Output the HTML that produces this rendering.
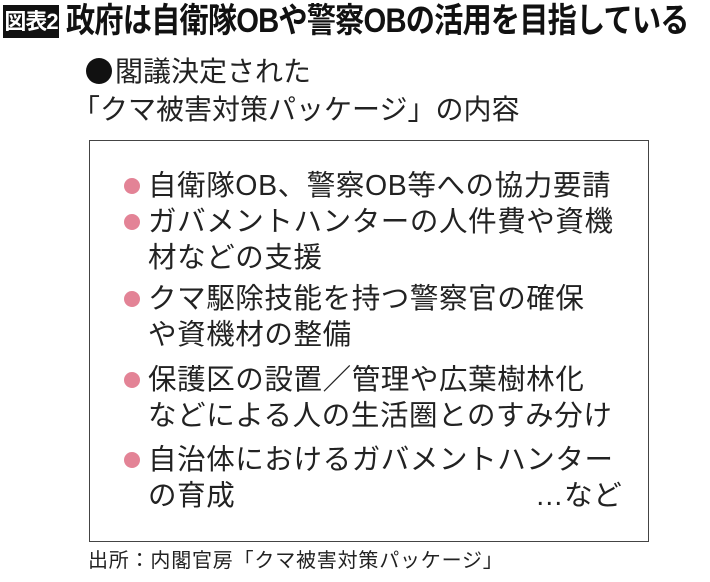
<!DOCTYPE html>
<html><head><meta charset="utf-8"><style>
body{margin:0;width:710px;height:582px;background:#fff;position:relative;overflow:hidden;font-family:"Liberation Sans","Noto Sans CJK JP",sans-serif;color:#222}
.a{position:absolute;white-space:nowrap}
.lab{left:3px;top:5px;width:56px;height:33px;background:#111;color:#fff;font-weight:bold;font-size:22px;line-height:33px;text-align:center;letter-spacing:-1px}
.title{left:66px;top:1px;font-size:34px;font-weight:bold;line-height:40px;transform-origin:0 0;transform:scaleX(0.86);letter-spacing:-1px;color:#111}
.sub{font-size:28px;line-height:34px;color:#222}
.box{left:89px;top:140px;width:558px;height:400px;border:1.5px solid #444}
.t{font-size:28.5px;line-height:36px;left:148px;letter-spacing:0.6px}
.b{position:absolute;width:16px;height:16px;border-radius:50%;background:#e38396;left:124px}
.f{font-size:20px;left:88px;top:549px;line-height:24px;letter-spacing:0.8px}
</style></head><body>
<div class="a lab">図表2</div>
<div class="a title">政府は自衛隊OBや警察OBの活用を目指している</div>
<div class="a sub" style="left:86px;top:55px"><span style="display:inline-block;width:26px;height:26px;border-radius:50%;background:#111;vertical-align:-3px;margin-right:3px"></span>閣議決定された</div>
<div class="a sub" style="left:72px;top:93px">「クマ被害対策パッケージ」の内容</div>
<div class="a box"></div>
<div class="b" style="top:178px"></div>
<div class="a t" style="top:168px">自衛隊OB、警察OB等への協力要請</div>
<div class="b" style="top:214px"></div>
<div class="a t" style="top:204px">ガバメントハンターの人件費や資機</div>
<div class="a t" style="top:240px">材などの支援</div>
<div class="b" style="top:291px"></div>
<div class="a t" style="top:281px">クマ駆除技能を持つ警察官の確保</div>
<div class="a t" style="top:317px">や資機材の整備</div>
<div class="b" style="top:372px"></div>
<div class="a t" style="top:362px">保護区の設置／管理や広葉樹林化</div>
<div class="a t" style="top:398px">などによる人の生活圏とのすみ分け</div>
<div class="b" style="top:452px"></div>
<div class="a t" style="top:442px">自治体におけるガバメントハンター</div>
<div class="a t" style="top:478px">の育成</div>
<div class="a t" style="top:478px;left:535px">…など</div>
<div class="a f">出所：内閣官房「クマ被害対策パッケージ」</div>
</body></html>
